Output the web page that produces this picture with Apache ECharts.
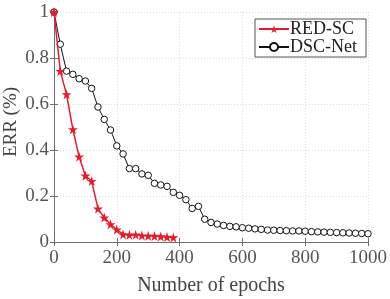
<!DOCTYPE html>
<html><head><meta charset="utf-8">
<script src="https://cdn.jsdelivr.net/npm/echarts@6/dist/echarts.min.js"></script>
<style>html,body{margin:0;padding:0;background:#fff}#c{width:390px;height:299px}</style>
</head><body><div id="c"></div>
<script>
var redEpochs = [0,20,40,60,80,100,120,140,160,180,200,220,240,260,280,300,320,340,360,380];
var redSC = [1.0,0.743,0.642,0.49,0.371,0.288,0.265,0.145,0.106,0.077,0.054,0.033,0.031,0.032,0.028,0.027,0.026,0.024,0.022,0.020];
var dscEpochs = [0,20,40,60,80,100,120,140,160,180,200,220,240,260,280,300,320,340,360,380,400,420,440,460,480,500,520,540,560,580,600,620,640,660,680,700,720,740,760,780,800,820,840,860,880,900,920,940,960,980,1000];
var dscNet = [1.0,0.86,0.743,0.729,0.71,0.70,0.668,0.587,0.533,0.487,0.418,0.383,0.319,0.319,0.296,0.29,0.255,0.248,0.242,0.216,0.203,0.184,0.146,0.155,0.099,0.085,0.078,0.072,0.068,0.066,0.062,0.06,0.057,0.055,0.052,0.051,0.05,0.049,0.048,0.048,0.047,0.045,0.044,0.043,0.042,0.041,0.040,0.039,0.038,0.037,0.036];
var xTicks = [0,200,400,600,800,1000];
var yTicks = [0,0.2,0.4,0.6,0.8,1];

function pairs(xs, ys){ return xs.map(function(x,i){return [x, ys[i]];}); }
var star = 'path://M50,0 L61,35 L98,35 L68,57 L79,91 L50,70 L21,91 L32,57 L2,35 L39,35 Z';
var axisCol = '#707070';
var font = '"Liberation Serif", "Times New Roman", serif';
var chart = echarts.init(document.getElementById('c'));
chart.setOption({
  animation: false,
  textStyle: {fontFamily: font},
  grid: {left: 54, right: 22, top: 12, bottom: 57, containLabel: false, outerBoundsMode: 'none'},
  legend: {
    right: 24, top: 19,
    orient: 'vertical',
    data: ['RED-SC','DSC-Net'],
    borderColor: '#555', borderWidth: 1,
    padding: [1, 9, 1, 3],
    itemGap: 0,
    itemWidth: 30, itemHeight: 10,
    backgroundColor: '#fff',
    textStyle: {fontFamily: font, fontSize: 18, color: '#222', padding: [0,0,0,-4], lineHeight: 17}
  },
  xAxis: [{
    type: 'value', min: 0, max: 1000, interval: 200,
    name: 'Number of epochs', nameLocation: 'middle', nameGap: 34, nameMoveOverlap: false,
    nameTextStyle: {fontFamily: font, fontSize: 20, color: '#444'},
    axisLine: {show: true, lineStyle: {color: axisCol}},
    axisTick: {show: true, inside: true, length: 4, lineStyle: {color: axisCol}},
    axisLabel: {fontFamily: font, fontSize: 19, color: '#555', margin: 7,
      formatter: function(v){ return String(v); }},
    splitLine: {show: true, lineStyle: {color: '#dcdcdc', type: [1,2]}}
  },{
    type: 'value', min: 0, max: 1000, interval: 200, position: 'top',
    axisLine: {show: true, lineStyle: {color: axisCol}},
    axisTick: {show: true, inside: true, length: 4, lineStyle: {color: axisCol}},
    axisLabel: {show: false}, splitLine: {show: false}
  }],
  yAxis: [{
    type: 'value', min: 0, max: 1, interval: 0.2,
    name: 'ERR (%)', nameLocation: 'middle', nameGap: 33, nameRotate: 90, nameMoveOverlap: false,
    nameTextStyle: {fontFamily: font, fontSize: 19, color: '#444', padding: [0,0,0,10]},
    axisLine: {show: true, lineStyle: {color: axisCol}},
    axisTick: {show: true, inside: true, length: 4, lineStyle: {color: axisCol}},
    axisLabel: {fontFamily: font, fontSize: 19, color: '#555', margin: 5,
      formatter: function(v){ return String(Math.round(v*10)/10); }},
    splitLine: {show: true, lineStyle: {color: '#dcdcdc', type: [1,2]}}
  },{
    type: 'value', min: 0, max: 1, interval: 0.2, position: 'right',
    axisLine: {show: true, lineStyle: {color: axisCol}},
    axisTick: {show: true, inside: true, length: 4, lineStyle: {color: axisCol}},
    axisLabel: {show: false}, splitLine: {show: false}
  }],
  series: [{
    name: 'DSC-Net', type: 'line', data: pairs(dscEpochs, dscNet),
    symbol: 'circle', symbolSize: 6.5, showAllSymbol: true,
    lineStyle: {color: '#111', width: 1},
    itemStyle: {color: '#fff', borderColor: '#111', borderWidth: 1},
    z: 2
  },{
    name: 'RED-SC', type: 'line', data: pairs(redEpochs, redSC),
    symbol: star, symbolSize: 10, showAllSymbol: true,
    lineStyle: {color: '#e8192c', width: 1.5},
    itemStyle: {color: '#e8192c', borderColor: '#e8192c', borderWidth: 0},
    z: 3
  }]
});
</script></body></html>
